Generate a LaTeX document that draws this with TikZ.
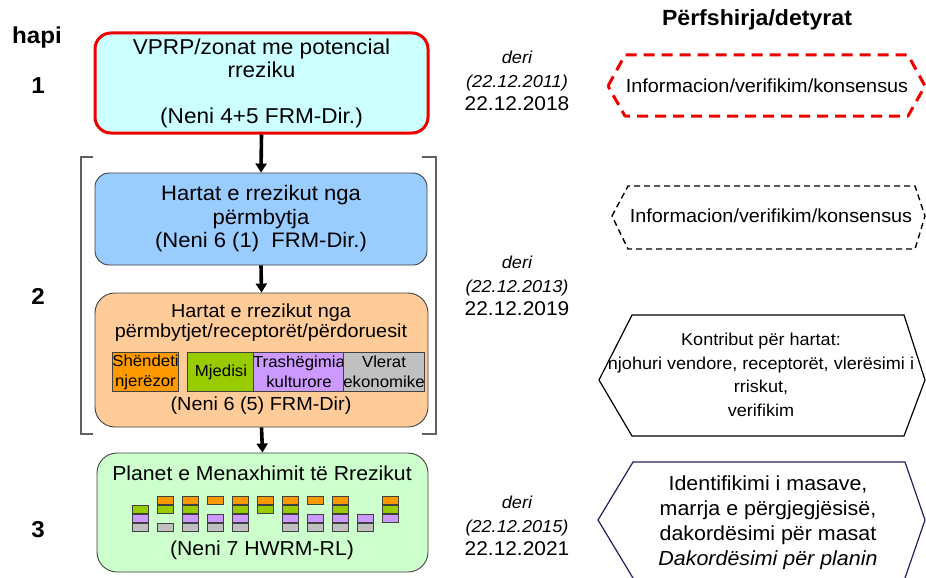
\documentclass[tikz,border=0pt]{standalone}
\usepackage{fontspec}
\setmainfont{Liberation Sans}[FakeStretch=1.05]
\usetikzlibrary{arrows.meta}
\definecolor{boxcyan}{HTML}{CCFFFF}
\definecolor{boxblue}{HTML}{99CCFF}
\definecolor{boxpeach}{HTML}{FFCC99}
\definecolor{boxgreen}{HTML}{CCFFCC}
\definecolor{sqorange}{HTML}{FF9900}
\definecolor{sqgreen}{HTML}{99CC00}
\definecolor{sqpurple}{HTML}{CC99FF}
\definecolor{sqgray}{HTML}{C0C0C0}
\definecolor{redline}{HTML}{EE0000}
\definecolor{navyline}{HTML}{202060}
\definecolor{edgegray}{HTML}{404040}
\definecolor{brackgray}{HTML}{606060}
\newcommand{\fs}[2]{\fontsize{#1}{#2}\selectfont}
\newcommand{\smallit}[1]{{\itshape\fs{17.3}{22}#1}}
\begin{document}
\begin{tikzpicture}[x=1pt,y=-1pt,
  stagebox/.style={draw=edgegray, line width=0.9pt, rounded corners=16pt, align=center, inner sep=0pt},
  subbox/.style={draw=edgegray, line width=0.8pt, align=center, inner sep=0pt, font=\fs{16}{20}},
  flowarrow/.style={line width=3.6pt, -{Triangle[width=11pt,length=9pt]}},
  bracketline/.style={draw=brackgray, line width=1.2pt},
  steplabel/.style={font=\bfseries\fs{23}{26}},
  datelabel/.style={align=center, font=\fs{19.9}{23.5}},
  hextext/.style={align=center},
  sq/.style={draw=edgegray, line width=0.6pt}
]
\useasboundingbox (0,0) rectangle (926,578);

% step labels
\node[steplabel] (hapi) at (37,38) {hapi};
\node[steplabel] (s1) at (38,86) {1};
\node[steplabel] (s2) at (38,296) {2};
\node[steplabel] (s3) at (38,530) {3};

% header
\node[font=\bfseries\fs{22}{24}] (hdr) at (757,20) {Përfshirja/detyrat};

% stage boxes
\node[stagebox, draw=redline, line width=3pt, fill=boxcyan, minimum width=333pt, minimum height=100pt, font=\fs{21.5}{23}] (b1) at (261.5,83)
  {VPRP/zonat me potencial\\rreziku\\[23pt](Neni 4+5 FRM-Dir.)};
\node[stagebox, fill=boxblue, rounded corners=14pt, minimum width=332pt, minimum height=92pt, font=\fs{21}{23.5}] (b2) at (261,219)
  {Hartat e rrezikut nga\\përmbytja\\(Neni 6 (1)\ \ FRM-Dir.)};
\node[stagebox, fill=boxpeach, rounded corners=20pt, minimum width=333pt, minimum height=134pt] (b3) at (261.5,360) {};
\node[stagebox, fill=boxgreen, rounded corners=20pt, minimum width=331pt, minimum height=119pt] (b4) at (262.5,512.5) {};

% box 3 contents
\node[align=center, font=\fs{18.9}{20}] (b3t) at (261,323) {Hartat e rrezikut nga\\përmbytjet/receptorët/përdoruesit};
\node[subbox, fill=sqorange, minimum width=66pt, minimum height=39pt] (c1) at (145.5,372) {Shëndeti\\njerëzor};
\node[subbox, fill=sqgreen, minimum width=68pt, minimum height=39pt] (c2) at (221,372) {Mjedisi};
\node[subbox, fill=sqpurple, minimum width=88pt, minimum height=39pt] (c3) at (299,372) {Trashëgimia\\kulturore};
\node[subbox, fill=sqgray, minimum width=68pt, minimum height=39pt] (c4) at (384,372) {Vlerat\\ekonomike};
\node[font=\fs{18.9}{20}] (b3n) at (261,406) {(Neni 6 (5) FRM-Dir)};

% box 4 contents
\node[font=\fs{20.2}{22}] (b4t) at (262,473) {Planet e Menaxhimit të Rrezikut};
\node[font=\fs{20.2}{22}] (b4n) at (262,550) {(Neni 7 HWRM-RL)};
\foreach \i/\o/\g/\p/\y in {0/0/1/1/1, 1/1/1/0/1, 2/1/1/1/1, 3/1/0/1/1, 4/1/1/1/1, 5/1/1/0/0, 6/1/1/1/1, 7/1/0/1/1, 8/1/1/1/1, 9/0/0/1/1, 10/1/1/1/0}{
  \pgfmathsetmacro{\xl}{132.5+25*\i}
  \ifnum\o=1 \filldraw[sq, fill=sqorange] (\xl,496) rectangle ++(16,8.3); \fi
  \ifnum\g=1 \filldraw[sq, fill=sqgreen] (\xl,505.2) rectangle ++(16,8.3); \fi
  \ifnum\p=1 \filldraw[sq, fill=sqpurple] (\xl,514.4) rectangle ++(16,8.3); \fi
  \ifnum\y=1 \filldraw[sq, fill=sqgray] (\xl,523.4) rectangle ++(16,8.3); \fi
}

% arrows
\draw[flowarrow] (b1.south) -- (b2.north);
\draw[flowarrow] (b2.south) -- (b3.north);
\draw[flowarrow] (b3.south) -- (b4.north);

% bracket for step 2
\draw[bracketline] (93,157) -- (81,157) -- (81,434) -- (93,434);
\draw[bracketline] (422,157) -- (436,157) -- (436,434) -- (422,434);

% dates
\node[datelabel] (d1) at (517,81) {\smallit{deri}\\\smallit{(22.12.2011)}\\22.12.2018};
\node[datelabel] (d2) at (517,286) {\smallit{deri}\\\smallit{(22.12.2013)}\\22.12.2019};
\node[datelabel] (d3) at (517,526) {\smallit{deri}\\\smallit{(22.12.2015)}\\22.12.2021};

% right column hexagons
\draw[redline, line width=3pt, dash pattern=on 11pt off 7pt, line join=round]
  (608,86) -- (625,55) -- (908,55) -- (925,86) -- (908,116) -- (625,116) -- cycle;
\node[hextext, font=\fs{18.9}{20}] (h1) at (767,86) {Informacion/verifikim/konsensus};

\draw[black, line width=1.4pt, dash pattern=on 6pt off 4pt]
  (612,216) -- (628,186) -- (915,186) -- (925,216) -- (915,249) -- (628,249) -- cycle;
\node[hextext, font=\fs{18.9}{20}] (h2) at (771,216) {Informacion/verifikim/konsensus};

\draw[black, line width=1.2pt]
  (599,380) -- (632,315) -- (904,315) -- (925,380) -- (904,436) -- (632,436) -- cycle;
\node[hextext, font=\fs{17.2}{23.5}] (h3) at (761,375) {Kontribut për hartat:\\njohuri vendore, receptorët, vlerësimi i\\rriskut,\\verifikim};

\draw[navyline, line width=1.2pt]
  (633,578) -- (598,520) -- (633,462) -- (905,462) -- (925,520) -- (905,578);
\node[hextext, font=\fs{20.4}{25}] (h4) at (768,523) {Identifikimi i masave,\\marrja e përgjegjësisë,\\dakordësimi për masat\\\textit{Dakordësimi për planin}};
\end{tikzpicture}
\end{document}
